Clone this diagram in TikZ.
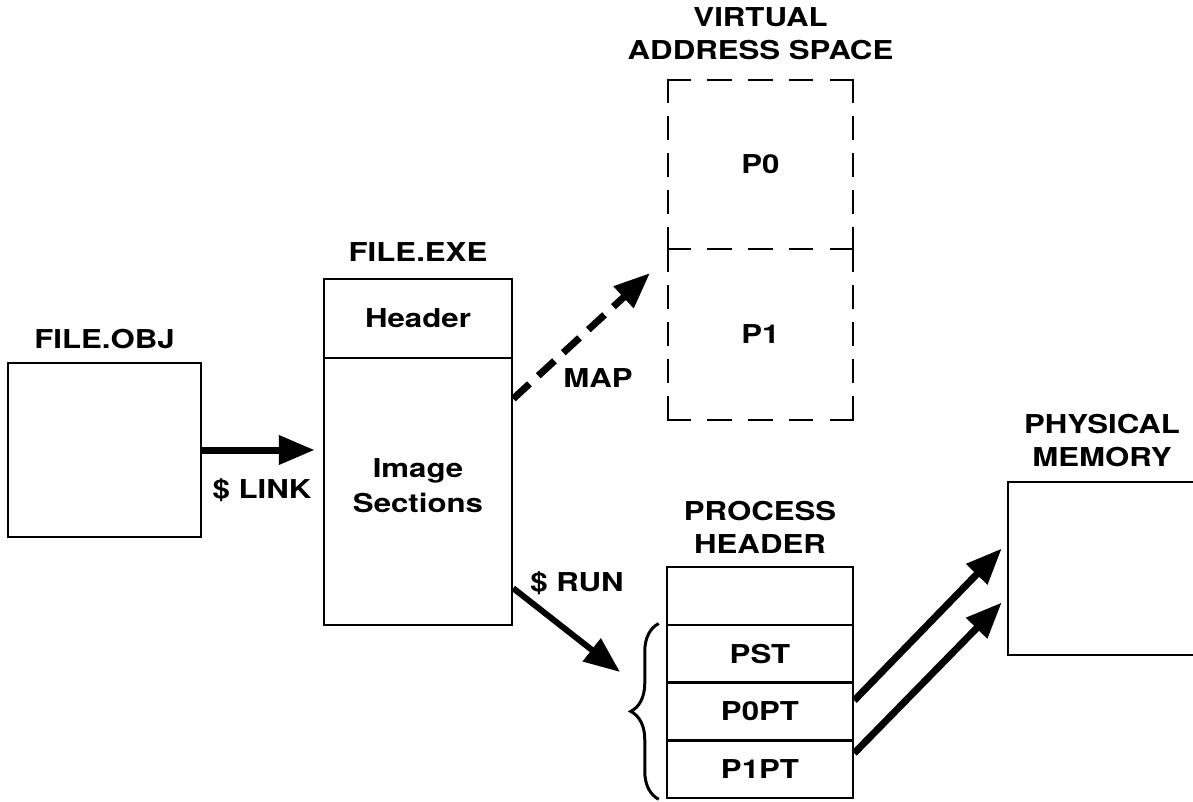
\documentclass[tikz,border=0pt]{standalone}
\usepackage{fontspec}
\setmainfont{TeX Gyre Heros}[FakeStretch=1.2]
\usetikzlibrary{positioning,arrows.meta,decorations.pathreplacing}

\begin{document}
\begin{tikzpicture}[x=1pt, y=-1pt, font=\fontsize{26}{33}\selectfont\bfseries,
    box/.style={draw, line width=2.5pt, inner sep=0pt},
    title/.style={align=center, inner sep=0pt},
    hdash/.style={line width=2.5pt, line cap=rect, dash pattern=on 22pt off 18.75pt},
    vdash/.style={line width=2.5pt, line cap=rect, dash pattern=on 22pt off 15pt},
    fat/.style={line width=7pt, -{Triangle[length=36pt, width=28pt]}}]
    \useasboundingbox (0,0) rectangle (1193,802);
    \clip (0,0) rectangle (1193,802);

    % Объектный файл
    \node[box, minimum width=193pt, minimum height=174pt] (fileobj) at (104.5,450) {};
    \node[title, above=13pt of fileobj] (objtitle) {FILE.OBJ};

    % Исполняемый файл
    \node[box, minimum width=188pt, minimum height=79pt] (header) at (418,318.5) {Header};
    \node[box, minimum width=188pt, minimum height=267pt, align=center, text depth=12pt] (imgsec) at (418,491.5) {Image\\[2pt]Sections};
    \node[title, above=16pt of header] (exetitle) {FILE.EXE};

    % Виртуальное адресное пространство
    \node[minimum width=185pt, minimum height=169pt, inner sep=0pt] (p0) at (760.5,164.5) {P0};
    \node[minimum width=185pt, minimum height=171pt, inner sep=0pt] (p1) at (760.5,334.5) {P1};
    \foreach \n in {p0,p1} {
        \draw[hdash] (\n.north west) -- (\n.north east);
        \draw[vdash] (\n.north west) -- (\n.south west);
        \draw[vdash] (\n.north east) -- (\n.south east);
    }
    \draw[hdash] (p1.south west) -- (p1.south east);
    \node[title, above=20pt of p0] (vastitle) {VIRTUAL\\ADDRESS SPACE};

    % Заголовок процесса
    \foreach \i/\name/\txt in {0/phtop/{},1/pst/PST,2/p0pt/P0PT,3/p1pt/P1PT}
        \node[box, minimum width=186pt, minimum height=57.75pt] (\name) at (760,595.9+57.75*\i) {\txt};
    \node[title, above=12pt of phtop] (phtitle) {PROCESS\\HEADER};
    \draw[line width=3pt, decorate, decoration={brace, amplitude=28pt}]
        ([xshift=-7pt]p1pt.south west) -- ([xshift=-7pt]pst.north west);

    % Физическая память
    \node[box, minimum width=200pt, minimum height=173pt] (phys) at (1108,568.5) {};
    \node[title, above=14pt of phys, xshift=-6pt] (phystitle) {PHYSICAL\\MEMORY};

    % Стрелки
    \draw[fat, shorten >=8pt] (fileobj.east) -- (fileobj.east -| imgsec.west);
    \node (link) at (262,490) {\$ LINK};

    \coordinate (maptip) at (650,273);
    \draw[fat, dash pattern=on 22pt off 12pt] ([yshift=-42pt]imgsec.north east) -- (maptip);
    \node (map) at (598,378) {MAP};

    \coordinate (runtip) at (620,672);
    \draw[fat, line width=6pt] ([yshift=38pt]imgsec.south east) -- (runtip);
    \node (run) at (577,583) {\$ RUN};

    \draw[fat] ([yshift=11pt]p0pt.east) -- ([xshift=-5pt,yshift=20pt]phys.west);
    \draw[fat] ([yshift=16pt]p1pt.east) -- ([xshift=-5pt,yshift=-34pt]phys.west);
\end{tikzpicture}
\end{document}
